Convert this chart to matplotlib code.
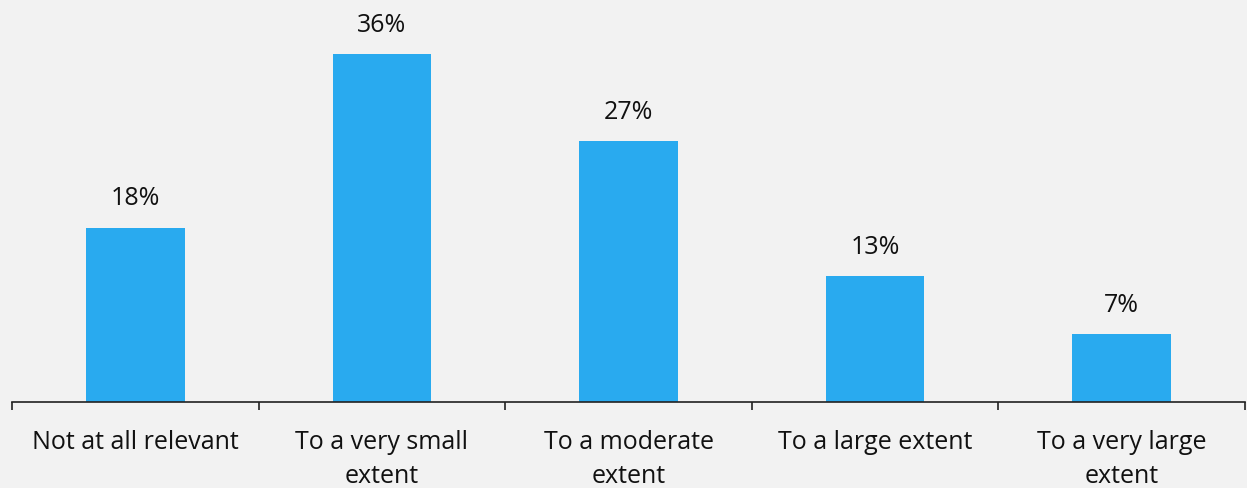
import numpy as np
import matplotlib.pyplot as plt

categories = ["Not at all relevant", "To a very small\nextent", "To a moderate\nextent",
              "To a large extent", "To a very large\nextent"]
values = [18, 36, 27, 13, 7]

bg = "#f2f2f2"
blue = "#29aaef"

plt.rcParams['font.family'] = ['Open Sans', 'DejaVu Sans']

fig = plt.figure(figsize=(12.47, 4.88), dpi=100, facecolor=bg)
ax = fig.add_axes([12/1247, 86/488, 1233/1247, 396/488], facecolor=bg)

x = np.arange(len(values))
ax.bar(x, values, width=0.4, color=blue)

for xi, v in zip(x, values):
    ax.annotate(f"{v}%", (xi, v), xytext=(0, 12), textcoords="offset points",
                ha="center", va="bottom", fontsize=18, color="#111111")

ax.set_xlim(-0.5, len(values) - 0.5)
ax.set_ylim(0, 41)

ax.set_xticks(x)
ax.set_xticklabels(categories, fontsize=18, color="#111111", linespacing=1.5)
ax.tick_params(axis="x", which="major", length=0, pad=20)
ax.set_xticks(np.arange(-0.5, len(values)), minor=True)
ax.tick_params(axis="x", which="minor", length=6, width=1.2, color="#222222")
ax.set_yticks([])

for s in ["top", "right", "left"]:
    ax.spines[s].set_visible(False)
ax.spines["bottom"].set_color("#222222")
ax.spines["bottom"].set_linewidth(1.2)

fig.savefig("out.png", dpi=100, facecolor=bg)
